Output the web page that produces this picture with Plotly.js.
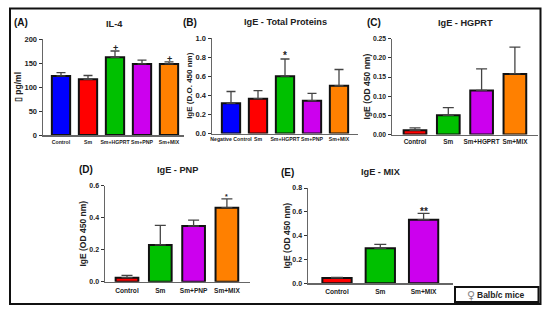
<!DOCTYPE html>
<html><head><meta charset="utf-8">
<script src="https://cdn.plot.ly/plotly-3.0.1.min.js"></script>
<style>html,body{margin:0;padding:0;background:#fff}</style></head>
<body><div id="chart" style="width:550px;height:312px"></div>
<script>
const BLUE='#0000ff',RED='#ff0000',GREEN='#00c000',PURPLE='#cc00ee',ORANGE='#ff8000';

const catsA=['Control','Sm','Sm+HGPRT','Sm+PNP','Sm+MIX'];
const valsA=[123,116,162,148,148];
const errsA=[7,8,13,8,4.5];
const colorsA=[BLUE,RED,GREEN,PURPLE,ORANGE];

const catsB=['Negative Control','Sm','Sm+HGPRT','Sm+PNP','Sm+MIX'];
const valsB=[0.316,0.365,0.60,0.344,0.50];
const errsB=[0.124,0.085,0.18,0.076,0.17];
const colorsB=[BLUE,RED,GREEN,PURPLE,ORANGE];

const catsC=['Control','Sm','Sm+HGPRT','Sm+MIX'];
const valsC=[0.011,0.05,0.115,0.158];
const errsC=[0.0065,0.02,0.056,0.07];
const colorsC=[RED,GREEN,PURPLE,ORANGE];

const catsD=['Control','Sm','Sm+PNP','Sm+MIX'];
const valsD=[0.025,0.23,0.348,0.4625];
const errsD=[0.015,0.122,0.037,0.055];
const colorsD=[RED,GREEN,PURPLE,ORANGE];

const catsE=['Control','Sm','Sm+MIX'];
const valsE=[0.045,0.294,0.534];
const errsE=[0.005,0.033,0.053];
const colorsE=[RED,GREEN,PURPLE];

const W=550,H=312;
const FONT='"Liberation Sans",Arial,sans-serif';
const panels=[
 {id:'',  cats:catsA,vals:valsA,errs:errsA,colors:colorsA,ymax:200,dtick:50,fmt:'d',  x0:43, x1:184,y0:135,  yT:39,  first:61, step:27,  barPx:18.3,cap:4.5,xfs:5.2,yfs:7.5,xso:1,yso:1,title:'IL-4',tx:115,ty:24,letter:'(A)',lx:20.5,ly:23,ylab:'▯ pg/ml',ylfs:8.5},
 {id:'2', cats:catsB,vals:valsB,errs:errsB,colors:colorsB,ymax:1,dtick:0.2,fmt:'.1f',x0:212,x1:358,y0:133.5,yT:38,  first:231,step:27,  barPx:18.3,cap:4.5,xfs:5.2,yfs:7.5,xso:0,yso:2,title:'IgE - Total Proteins',tx:285,ty:22,letter:'(B)',lx:190,ly:23,ylab:'IgE (D.O. 450 nm)',ylfs:8},
 {id:'3', cats:catsC,vals:valsC,errs:errsC,colors:colorsC,ymax:0.25,dtick:0.05,fmt:'.2f',x0:392,x1:538,y0:134.5,yT:38.7,first:415,step:33.3,barPx:22.7,cap:5.5,xfs:6.4,yfs:6.8,xso:0,yso:1,title:'IgE - HGPRT',tx:465.5,ty:23,letter:'(C)',lx:374,ly:23,ylab:'IgE (OD 450 nm)',ylfs:8.5},
 {id:'4', cats:catsD,vals:valsD,errs:errsD,colors:colorsD,ymax:0.6,dtick:0.2,fmt:'.1f',x0:105,x1:250,y0:281.7,yT:185.7,first:127,step:33.3,barPx:22.7,cap:5.5,xfs:6.6,yfs:7,xso:2,yso:1,title:'IgE - PNP',tx:177.5,ty:170,letter:'(D)',lx:86,ly:170,ylab:'IgE (OD 450 nm)',ylfs:8.5},
 {id:'5', cats:catsE,vals:valsE,errs:errsE,colors:colorsE,ymax:0.8,dtick:0.2,fmt:'.1f',x0:308,x1:453,y0:283.3,yT:188,first:337,step:43.3,barPx:29.3,cap:6,xfs:6.6,yfs:7,xso:1,yso:0,title:'IgE - MIX',tx:381,ty:172,letter:'(E)',lx:287,ly:172,ylab:'IgE (OD 450 nm)',ylfs:8.5}
];
const marks=[
 {p:0,i:2,text:'+',dy:-4,size:9},{p:0,i:4,text:'+',dy:-4,size:9},
 {p:1,i:2,text:'*',dy:-4,size:10},
 {p:3,i:3,text:'*',dy:-3,size:7},
 {p:4,i:2,text:'**',dy:-6,size:10}
];

const traces=[],annotations=[],shapes=[],layout={
 width:W,height:H,autosize:false,showlegend:false,paper_bgcolor:'#fff',plot_bgcolor:'#fff',
 margin:{l:0,r:0,t:0,b:0},bargap:0,font:{family:FONT,color:'#111'},annotations,shapes};

panels.forEach((p,k)=>{
 const xk='xaxis'+p.id,yk='yaxis'+p.id,xa='x'+p.id,ya='y'+p.id;
 traces.push({type:'bar',x:p.cats.map((c,i)=>i),y:p.vals,xaxis:xa,yaxis:ya,width:p.barPx/p.step,
  marker:{color:p.colors,line:{color:'#111',width:2}},
  error_y:{type:'data',array:p.errs,arrayminus:p.errs.map(()=>0),symmetric:false,color:'#444',thickness:1.3,width:p.cap},
  hoverinfo:'skip'});
 layout[xk]={domain:[p.x0/W,p.x1/W],anchor:ya,range:[(p.x0-p.first)/p.step,(p.x1-p.first)/p.step],
  tickmode:'array',tickvals:p.cats.map((c,i)=>i),ticktext:p.cats,tickangle:0,ticklabelstandoff:p.xso,
  tickfont:{size:p.xfs,family:FONT,color:'#222',weight:'bold'},ticks:'',ticklen:0,
  showgrid:false,zeroline:false,showline:true,linecolor:'#666',linewidth:1.5};
 layout[yk]={domain:[1-p.y0/H,1-p.yT/H],anchor:xa,range:[0,p.ymax],dtick:p.dtick,tickformat:p.fmt,
  tickfont:{size:p.yfs,family:FONT,color:'#222',weight:'bold'},ticks:'outside',ticklen:3,tickwidth:1,tickcolor:'#333',
  showgrid:false,zeroline:false,showline:true,linecolor:'#666',linewidth:1.5,
  title:{text:p.ylab,font:{size:p.ylfs,family:FONT,color:'#222',weight:'bold'},standoff:p.yso}};
 annotations.push({xref:'paper',yref:'paper',x:p.tx/W,y:1-p.ty/H,text:'<b>'+p.title+'</b>',showarrow:false,xanchor:'center',yanchor:'middle',font:{size:9.2,color:'#222'}});
 annotations.push({xref:'paper',yref:'paper',x:p.lx/W,y:1-p.ly/H,text:'<b>'+p.letter+'</b>',showarrow:false,xanchor:'center',yanchor:'middle',font:{size:10,color:'#111'}});
});
marks.forEach(m=>{
 const p=panels[m.p];
 annotations.push({xref:'x'+p.id,yref:'y'+p.id,x:m.i,y:p.vals[m.i]+p.errs[m.i],text:'<b>'+m.text+'</b>',showarrow:false,xanchor:'center',yanchor:'bottom',yshift:m.dy,font:{size:m.size,color:'#222'}});
});
// outer frame and legend box
shapes.push({type:'rect',xref:'paper',yref:'paper',x0:10/W,x1:540.5/W,y0:1-304/H,y1:1-8.5/H,line:{color:'#111',width:2},fillcolor:'rgba(0,0,0,0)'});
shapes.push({type:'rect',xref:'paper',yref:'paper',x0:455/W,x1:538.5/W,y0:1-302/H,y1:1-287/H,line:{color:'#111',width:2},fillcolor:'#fff',layer:'above'});
annotations.push({xref:'paper',yref:'paper',x:501/W,y:1-295/H,text:'<b>Balb/c mice</b>',showarrow:false,xanchor:'center',yanchor:'middle',font:{size:8.5,color:'#222'}});
annotations.push({xref:'paper',yref:'paper',x:470.5/W,y:1-295/H,text:'♀',showarrow:false,xanchor:'center',yanchor:'middle',font:{size:11,color:'#888',family:'"DejaVu Sans",sans-serif'}});

Plotly.newPlot('chart',traces,layout,{staticPlot:true,displayModeBar:false});
</script></body></html>
